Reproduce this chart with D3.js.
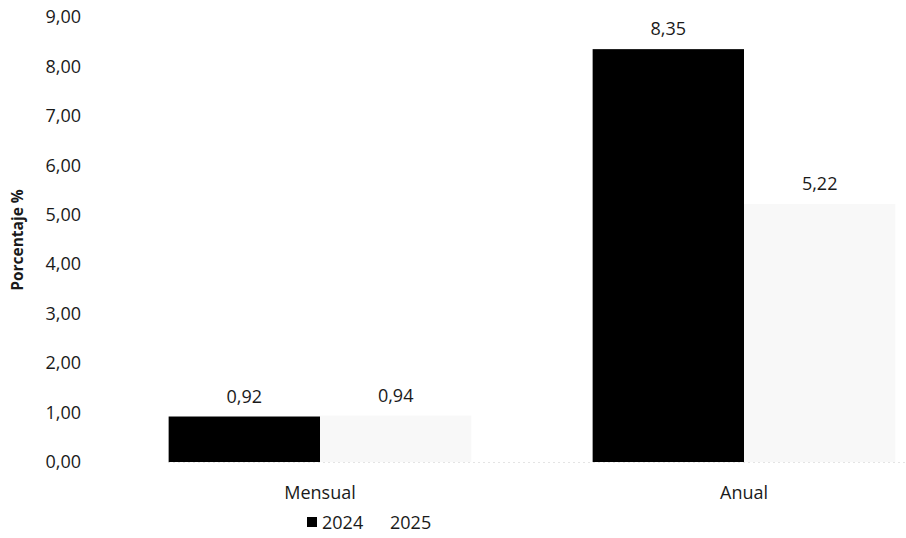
<!DOCTYPE html>
<html><head><meta charset="utf-8">
<script src="https://cdn.jsdelivr.net/npm/d3@7"></script>
<style>body{margin:0;background:#fff}svg{display:block}text{font-family:"Open Sans","Noto Sans",sans-serif;fill:#1a1a1a}</style>
</head><body>
<svg id="c" width="906" height="538"></svg>
<script>
const categories = ["Mensual", "Anual"];
const seriesNames = ["2024", "2025"];
const values2024 = [0.92, 8.35];
const values2025 = [0.94, 5.22];
const yTicks = [0,1,2,3,4,5,6,7,8,9];
const colors = ["#000000", "#f8f8f8"];

const svg = d3.select("#c");
const fmt = v => d3.format(".2f")(v).replace(".", ",");
const y = d3.scaleLinear().domain([0, 9]).range([462, 17]);
const x0 = d3.scaleBand().domain(categories).range([108, 956]).paddingInner(0.286).paddingOuter(0.143);
const x1 = d3.scaleBand().domain(seriesNames).range([0, x0.bandwidth()]);

const yAxis = d3.axisLeft(y).tickValues(yTicks).tickFormat(fmt).tickSize(0).tickPadding(27);
const gy = svg.append("g").attr("transform", "translate(108,0)").call(yAxis);
gy.select(".domain").remove();
gy.selectAll("text").style("font-size", "18px").style("font-family", '"Open Sans",sans-serif').attr("fill", "#1a1a1a");

const data = categories.map((c, i) => ({c, vals: [values2024[i], values2025[i]]}));
const g = svg.append("g");
data.forEach(d => {
  d.vals.forEach((v, j) => {
    const xs = x0(d.c) + x1(seriesNames[j]);
    g.append("rect").attr("x", xs).attr("y", y(v)).attr("width", x1.bandwidth()).attr("height", y(0) - y(v)).attr("fill", colors[j]);
    g.append("text").attr("x", xs + x1.bandwidth() / 2).attr("y", y(v) - 14).attr("text-anchor", "middle").style("font-size", "18px").text(fmt(v));
  });
});
// faint baseline
svg.append("line").attr("x1", 168).attr("x2", 906).attr("y1", y(0)+0.5).attr("y2", y(0)+0.5).attr("stroke", "#e4e4e4").attr("stroke-dasharray", "2,3");

const xAxis = d3.axisBottom(x0).tickSize(0).tickPadding(24);
const gx = svg.append("g").attr("transform", `translate(0,${y(0)})`).call(xAxis);
gx.select(".domain").remove();
gx.selectAll("text").style("font-size", "18px").style("font-family", '"Open Sans",sans-serif').attr("fill", "#1a1a1a");

svg.append("text").attr("transform", "translate(23,240) rotate(-90)").attr("text-anchor", "middle").style("font-size", "15.5px").style("font-weight", "bold").text("Porcentaje %");

const legX = [307, 375];
seriesNames.forEach((s, j) => {
  svg.append("rect").attr("x", legX[j]).attr("y", 517).attr("width", 10).attr("height", 10).attr("fill", j === 0 ? colors[0] : "#ffffff");
  svg.append("text").attr("x", legX[j] + 15).attr("y", 529).style("font-size", "18px").text(s);
});
</script>
</body></html>
